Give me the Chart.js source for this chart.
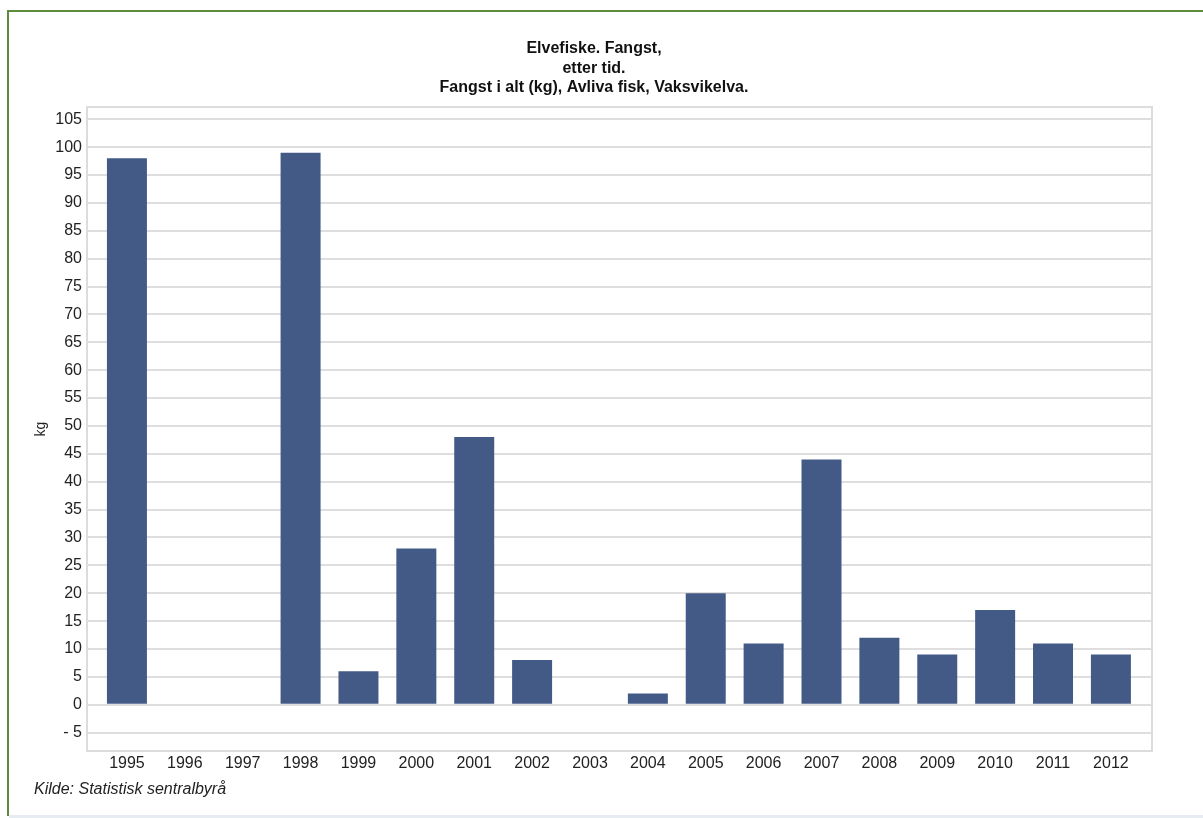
<!DOCTYPE html>
<html>
<head>
<meta charset="utf-8">
<script src="https://cdn.jsdelivr.net/npm/chart.js@4"></script>
<style>
    body { margin: 0; background: #fff; width: 1203px; height: 818px; overflow: hidden; position: relative; }
    #frame { position: absolute; left: 7px; top: 10px; width: 1210px; height: 804px; border-left: 2px solid #5e8c3c; border-top: 2px solid #5e8c3c; }
    #bottomLine { position: absolute; left: 9px; top: 815px; width: 1200px; height: 3px; background: #e6ecf2; }
    #chartBox { position: absolute; left: 0; top: 0; width: 1203px; height: 818px; }
    #source { position: absolute; left: 34px; top: 780px; font: italic 16px "Liberation Sans", Arial, sans-serif; color: #222; }
</style>
</head>
<body>
<div id="frame"></div>
<div id="bottomLine"></div>
<div id="chartBox"><canvas id="myChart" width="1203" height="818"></canvas></div>
<div id="source">Kilde: Statistisk sentralbyrå</div>
<script>
const years = ['1995', '1996', '1997', '1998', '1999', '2000', '2001', '2002', '2003',
    '2004', '2005', '2006', '2007', '2008', '2009', '2010', '2011', '2012'];
const catchKg = [98, null, null, 99, 6, 28, 48, 8, null, 2, 20, 11, 44, 12, 9, 17, 11, 9];
const yTicks = [-5, 0, 5, 10, 15, 20, 25, 30, 35, 40, 45, 50, 55, 60, 65, 70, 75, 80, 85, 90, 95, 100, 105];
const titleLines = ['Elvefiske. Fangst,', 'etter tid.', 'Fangst i alt (kg), Avliva fisk, Vaksvikelva.'];

const font = '"Liberation Sans", Arial, sans-serif';

// light box round the plot area
const plotBorder = {
    id: 'plotBorder',
    afterDraw(chart) {
        const a = chart.chartArea;
        const ctx = chart.ctx;
        ctx.save();
        ctx.strokeStyle = '#dcdcdc';
        ctx.lineWidth = 2;
        ctx.strokeRect(a.left, a.top, a.right - a.left, a.bottom - a.top);
        ctx.restore();
    }
};

// years are placed on a linear index axis so the outer gaps match the original
const points = years.map((y, i) => ({ x: i, y: catchKg[i] }));

var ctx = document.getElementById('myChart').getContext('2d');
var myChart = new Chart(ctx, {
    type: 'bar',
    data: {
        datasets: [{
            label: 'kg',
            data: points,
            backgroundColor: '#435a87',
            barPercentage: 0.691,
            categoryPercentage: 1
        }]
    },
    options: {
        responsive: false,
        animation: false,
        layout: { padding: { left: 25, right: 40, top: 10, bottom: 37 } },
        plugins: {
            legend: { display: false },
            tooltip: { enabled: false },
            title: {
                display: true,
                text: titleLines,
                color: '#111',
                font: { family: font, size: 16, weight: 'bold', lineHeight: 1.22 },
                padding: { top: 29.25, bottom: 9.25 }
            }
        },
        scales: {
            x: {
                type: 'linear',
                offset: false,
                min: -0.69,
                max: 17.71,
                afterBuildTicks(scale) { scale.ticks = years.map((y, i) => ({ value: i })); },
                grid: { display: false, drawTicks: false },
                border: { display: false },
                ticks: {
                    color: '#222',
                    font: { family: font, size: 16 },
                    padding: 3,
                    maxRotation: 0,
                    autoSkip: false,
                    callback: v => years[v]
                },
                afterFit(scale) { scale.height = 30; }
            },
            y: {
                min: -8.3,
                max: 107.2,
                afterBuildTicks(scale) { scale.ticks = yTicks.map(v => ({ value: v })); },
                grid: { color: '#dedede', lineWidth: 2, drawTicks: false },
                border: { display: false },
                ticks: {
                    color: '#222',
                    font: { family: font, size: 16 },
                    padding: 5,
                    callback: v => v < 0 ? '- ' + Math.abs(v) : String(v)
                },
                title: { display: true, text: 'kg', color: '#222', font: { family: font, size: 14 }, padding: { top: 8, bottom: 0 } },
                afterFit(scale) { scale.width = 62; }
            },
            y2: {
                position: 'right',
                display: true,
                grid: { display: false },
                border: { display: false },
                ticks: { display: false },
                afterFit(scale) { scale.width = 11; }
            }
        }
    },
    plugins: [plotBorder]
});
</script>
</body>
</html>
